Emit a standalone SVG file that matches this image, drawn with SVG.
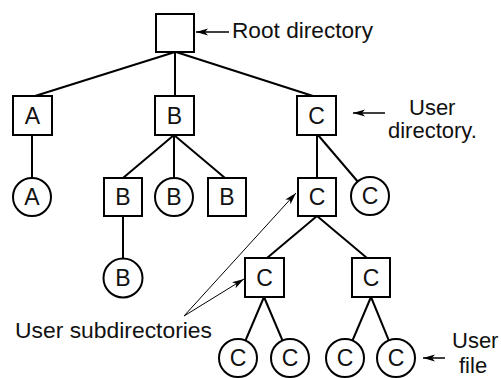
<svg xmlns="http://www.w3.org/2000/svg" width="501" height="378" viewBox="0 0 501 378">
<style>
.n{fill:#fff;stroke:#000;stroke-width:2}
.t{font-family:"Liberation Sans",Arial,sans-serif;font-size:22px;fill:#111}
.c{text-anchor:middle;font-size:23px}
.e{stroke:#000;stroke-width:2;fill:none}
.a{stroke:#000;stroke-width:1.5;fill:none}
.a1{stroke:#000;stroke-width:1;fill:none}
</style>
<defs>
<marker id="ah" markerUnits="userSpaceOnUse" markerWidth="13" markerHeight="8" refX="12" refY="3.5" orient="auto">
<path d="M0,0 L12,3.5 L0,7 L3,3.5 z" fill="#000"/>
</marker>
</defs>
<rect width="501" height="378" fill="#fff"/>
<g id="connectors">
<line class="e" x1="175" y1="52" x2="35" y2="96"/>
<line class="e" x1="175" y1="52" x2="175" y2="96"/>
<line class="e" x1="176" y1="52" x2="313" y2="96"/>
<line class="e" x1="32" y1="135" x2="32" y2="178"/>
<line class="e" x1="174" y1="135" x2="123" y2="178"/>
<line class="e" x1="174" y1="135" x2="174" y2="178"/>
<line class="e" x1="174" y1="135" x2="225" y2="178"/>
<line class="e" x1="123" y1="216" x2="123" y2="259"/>
<line class="e" x1="317" y1="135" x2="317" y2="178"/>
<line class="e" x1="318" y1="135" x2="357.7" y2="181.5"/>
<line class="e" x1="317" y1="216" x2="267" y2="258"/>
<line class="e" x1="317" y1="216" x2="367" y2="258"/>
<line class="e" x1="264" y1="297" x2="245.5" y2="340.5"/>
<line class="e" x1="264" y1="297" x2="282.5" y2="340.5"/>
<line class="e" x1="371" y1="297" x2="352.5" y2="340.5"/>
<line class="e" x1="371" y1="297" x2="388.8" y2="340.4"/>
<line class="a" x1="229" y1="32" x2="196" y2="32" marker-end="url(#ah)"/>
<line class="a" x1="385" y1="113" x2="353" y2="113" marker-end="url(#ah)"/>
<line class="a" x1="445" y1="358" x2="423" y2="358" marker-end="url(#ah)"/>
<line class="a1" x1="184" y1="316" x2="296" y2="193" marker-end="url(#ah)"/>
<line class="a1" x1="184" y1="316" x2="244" y2="279" marker-end="url(#ah)"/>
</g>
<g id="root"><rect class="n" x="156" y="14" width="38" height="38"/></g>
<g id="dirA"><rect class="n" x="13" y="96" width="39" height="39"/><text class="t c" x="32.5" y="123.7">A</text></g>
<g id="dirB"><rect class="n" x="155" y="96" width="39" height="39"/><text class="t c" x="174.5" y="123.7">B</text></g>
<g id="dirC"><rect class="n" x="297" y="96" width="39" height="39"/><text class="t c" x="316.5" y="123.7">C</text></g>
<g id="fileA"><circle class="n" cx="32" cy="197" r="19"/><text class="t c" x="32" y="205.2">A</text></g>
<g id="dirB1"><rect class="n" x="104" y="178" width="38" height="38"/><text class="t c" x="123" y="205.2">B</text></g>
<g id="fileB1"><circle class="n" cx="174" cy="197" r="19"/><text class="t c" x="174" y="205.2">B</text></g>
<g id="dirB3"><rect class="n" x="208" y="178" width="38" height="38"/><text class="t c" x="227" y="205.2">B</text></g>
<g id="dirCm"><rect class="n" x="298" y="178" width="38" height="38"/><text class="t c" x="317" y="205.2">C</text></g>
<g id="fileC1"><circle class="n" cx="370" cy="196" r="19"/><text class="t c" x="370" y="204.2">C</text></g>
<g id="fileB2"><circle class="n" cx="123" cy="278" r="19.5"/><text class="t c" x="123" y="286.2">B</text></g>
<g id="dirCl"><rect class="n" x="245" y="258" width="39" height="39"/><text class="t c" x="264.5" y="285.7">C</text></g>
<g id="dirCr"><rect class="n" x="352" y="258" width="38" height="39"/><text class="t c" x="371" y="285.7">C</text></g>
<g id="fileC2"><circle class="n" cx="238" cy="358" r="19"/><text class="t c" x="238" y="366.2">C</text></g>
<g id="fileC3"><circle class="n" cx="290" cy="358" r="19"/><text class="t c" x="290" y="366.2">C</text></g>
<g id="fileC4"><circle class="n" cx="345" cy="358" r="19"/><text class="t c" x="345" y="366.2">C</text></g>
<g id="fileC5"><circle class="n" cx="396" cy="358" r="19"/><text class="t c" x="396" y="366.2">C</text></g>
<g id="labels">
<text class="t" x="232" y="37.5" textLength="141" lengthAdjust="spacingAndGlyphs">Root directory</text>
<text class="t" x="409" y="115">User</text>
<text class="t" x="388" y="138">directory.</text>
<text class="t" x="15" y="338" textLength="197" lengthAdjust="spacingAndGlyphs">User subdirectories</text>
<text class="t" x="452" y="348">User</text>
<text class="t" x="459" y="373">file</text>
</g>
</svg>
